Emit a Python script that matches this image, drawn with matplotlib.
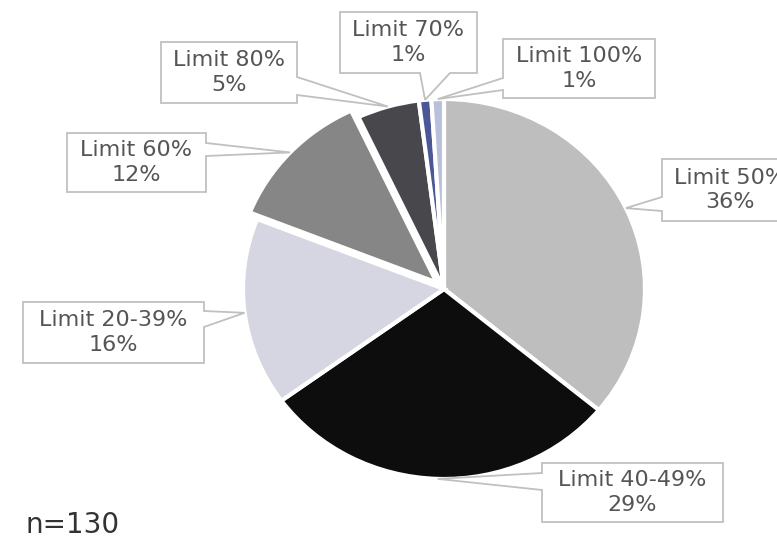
import matplotlib
matplotlib.use("Agg")
import matplotlib.pyplot as plt
from matplotlib.patches import Polygon
import numpy as np

# ---- data ----
categories = ["Limit 50%", "Limit 40-49%", "Limit 20-39%", "Limit 60%",
              "Limit 80%", "Limit 70%", "Limit 100%"]
shares = [36, 29, 16, 12, 5, 1, 1]
pct_labels = ["36%", "29%", "16%", "12%", "5%", "1%", "1%"]
n_label = "n=130"

colors = ["#bebebe", "#0d0d0d", "#d6d6e2", "#868686", "#48484c", "#4c5896", "#b8c0da"]
explode = [0, 0, 0, 0.05, 0, 0, 0]

W, H = 777, 539
fig = plt.figure(figsize=(W / 100, H / 100), dpi=100)
ax = fig.add_axes([0, 0, 1, 1])

cx, cy, rx, ry = 444, 289, 201, 190
wedges, _ = ax.pie(shares, colors=colors, startangle=90, counterclock=False,
                   explode=explode, radius=1,
                   wedgeprops=dict(edgecolor="white", linewidth=3.0))
ax.set_aspect("auto")
ax.set_xlim(-cx / rx, (W - cx) / rx)
ax.set_ylim((cy - H) / ry, cy / ry)
ax.axis("off")

# label boxes: (x0, y0, x1, y1) in pixels from top-left, tail side, tail base range
boxes = [
    ((662, 159, 800, 221), "left", (197, 211), 730),
    ((542, 463, 723, 522), "left", (473, 490), None),
    ((23, 302, 204, 363), "right", (311, 327), None),
    ((67, 133, 206, 192), "right", (143, 156), None),
    ((161, 42, 297, 103), "right", (77, 95), None),
    ((340, 12, 477, 73), "bottom", (420, 450), None),
    ((503, 39, 655, 98), "left", (78, 90), None),
]

fig.canvas.draw()
for w, cat, pct, (box, side, base, tx) in zip(wedges, categories, pct_labels, boxes):
    ang = np.deg2rad((w.theta1 + w.theta2) / 2)
    c = w.center
    px, py = ax.transData.transform((c[0] + w.r * np.cos(ang), c[1] + w.r * np.sin(ang)))
    tip = (px, H - py)
    x0, y0, x1, y1 = box
    a, b = base
    if side == "left":
        pts = [(x0, y0), (x1, y0), (x1, y1), (x0, y1), (x0, b), tip, (x0, a)]
    elif side == "right":
        pts = [(x0, y0), (x1, y0), (x1, a), tip, (x1, b), (x1, y1), (x0, y1)]
    else:
        pts = [(x0, y0), (x1, y0), (x1, y1), (b, y1), tip, (a, y1), (x0, y1)]
    fpts = [(p[0] / W, 1 - p[1] / H) for p in pts]
    poly = Polygon(fpts, closed=True, facecolor="white", edgecolor="#c0c0c0",
                   linewidth=1.3, transform=fig.transFigure, zorder=5)
    fig.add_artist(poly)
    xc = tx if tx is not None else (x0 + x1) / 2
    yc = (y0 + y1) / 2
    fig.text(xc / W, 1 - yc / H, f"{cat}\n{pct}", ha="center", va="center",
             multialignment="center", fontsize=16, color="#555555",
             linespacing=1.3, zorder=6)

fig.text(25 / W, 1 - 533 / H, n_label, ha="left", va="baseline",
         fontsize=20, color="#333333")

fig.savefig("out.png", dpi=100)
